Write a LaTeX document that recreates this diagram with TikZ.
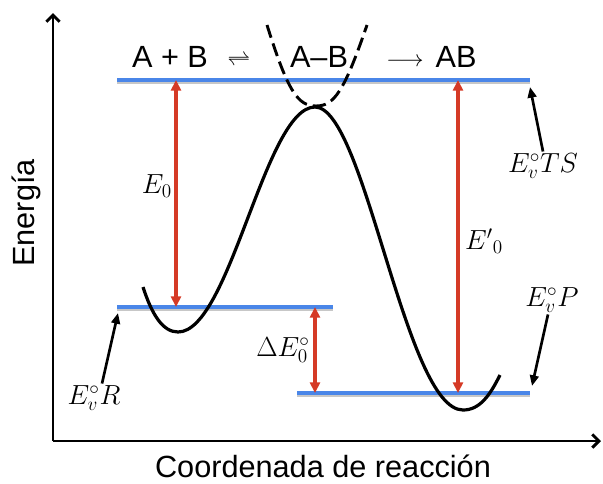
\documentclass[tikz,border=0pt]{standalone}
\usepackage[no-math]{fontspec}
\setmainfont{Liberation Sans}
\usetikzlibrary{arrows.meta}
\definecolor{lvlblue}{RGB}{74,134,232}
\definecolor{gapred}{RGB}{213,58,38}
\tikzset{enrgdiag/.style={x=0.75pt,y=-0.75pt,font=\fontsize{23}{27}\selectfont}}
\tikzset{level/.style={lvlblue,line width=3pt},
         lvlshade/.style={black!22,line width=2.4pt},
         gap/.style={draw=gapred,line width=2.6pt,
           {Triangle[length=8pt,width=7.5pt]}-{Triangle[length=8pt,width=7.5pt]}},
         pointer/.style={line width=2pt,-{Triangle[length=8pt,width=6.5pt]}},
         axis/.style={line width=2.2pt,-{Straight Barb[length=5pt,width=10pt]}},
         pes/.style={line width=2.4pt},
         tsdash/.style={line width=2.2pt,dash pattern=on 10pt off 4.5pt},
         mlabel/.style={font=\fontsize{22}{26}\selectfont,inner sep=1pt}}

\begin{document}
\begin{tikzpicture}[enrgdiag]
    \useasboundingbox (0,0) rectangle (603,483);
    % axes
    \coordinate (orig) at (53,441);
    \coordinate (ytip) at (53,13);
    \coordinate (xtip) at (601,441);
    \draw[axis] (orig) -- (ytip);
    \draw[axis] (orig) -- (xtip);
    \node[rotate=90,anchor=base] (ylab) at (34,213) {Energía};
    \node[anchor=base] (xlab) at (323,477) {Coordenada de reacción};
    % levels
    \coordinate (tsL) at (117,80);  \coordinate (tsR) at (530,80);
    \coordinate (reL) at (117,307); \coordinate (reR) at (333,307);
    \coordinate (prL) at (297,393); \coordinate (prR) at (530,393);
    \foreach \a/\b in {tsL/tsR,reL/reR,prL/prR}{
      \draw[lvlshade] ([yshift=-1.8pt]\a) -- ([yshift=-1.8pt]\b);
      \draw[level] (\a) -- (\b);
    }
    % potential energy curve
    \draw[pes] (143,287) .. controls (152,315) and (163,332) .. (178,332)
               .. controls (230,332) and (265,107) .. (315,107)
               .. controls (365,107) and (405,410) .. (463,410)
               .. controls (480,410) and (490,395) .. (500,375);
    \draw[tsdash] (267,25) .. controls (288,92) and (298,106) .. (316,106)
                  .. controls (334,106) and (344,92) .. (367,25);
    % reaction
    \node[anchor=base] (rab)  at (170,67) {A + B};
    \node[anchor=base,font=\fontsize{17}{20}\selectfont] (req) at (239,66) {$\rightleftharpoons$};
    \node[anchor=base] (rts)  at (319,67) {A--B};
    \node[anchor=base,font=\fontsize{18}{21}\selectfont] (rto) at (405,66) {$\longrightarrow$};
    \node[anchor=base] (rprd) at (456,67) {AB};
    % gaps
    \coordinate (e0t) at (176,80);  \coordinate (e0b) at (176,307);
    \coordinate (e1t) at (458,80);  \coordinate (e1b) at (458,393);
    \coordinate (dEt) at (315,307); \coordinate (dEb) at (315,393);
    \draw[gap] (e0t) -- (e0b);
    \draw[gap] (e1t) -- (e1b);
    \draw[gap] (dEt) -- (dEb);
    \node[mlabel] (le0) at (157,186) {$E_0$};
    \node[mlabel] (le1) at (484,241) {$E'{}_0$};
    \node[mlabel] (ldE) at (283,350) {$\Delta E^{\circ}_{0}$};
    % zero point levels
    \node[mlabel] (vts) at (543,166) {$E^{\circ}_{v}TS$};
    \node[mlabel] (vp)  at (552,300) {$E^{\circ}_{v}P$};
    \node[mlabel] (vr)  at (94,398)  {$E^{\circ}_{v}R$};
    \coordinate (tsTip) at (530,87);
    \coordinate (prTip) at (532,386);
    \coordinate (reTip) at (118,313);
    \draw[pointer] (vts.north) -- (tsTip);
    \draw[pointer] ([xshift=-3pt]vp.south) -- (prTip);
    \draw[pointer] ([xshift=6pt]vr.north) -- (reTip);
\end{tikzpicture}
\end{document}
